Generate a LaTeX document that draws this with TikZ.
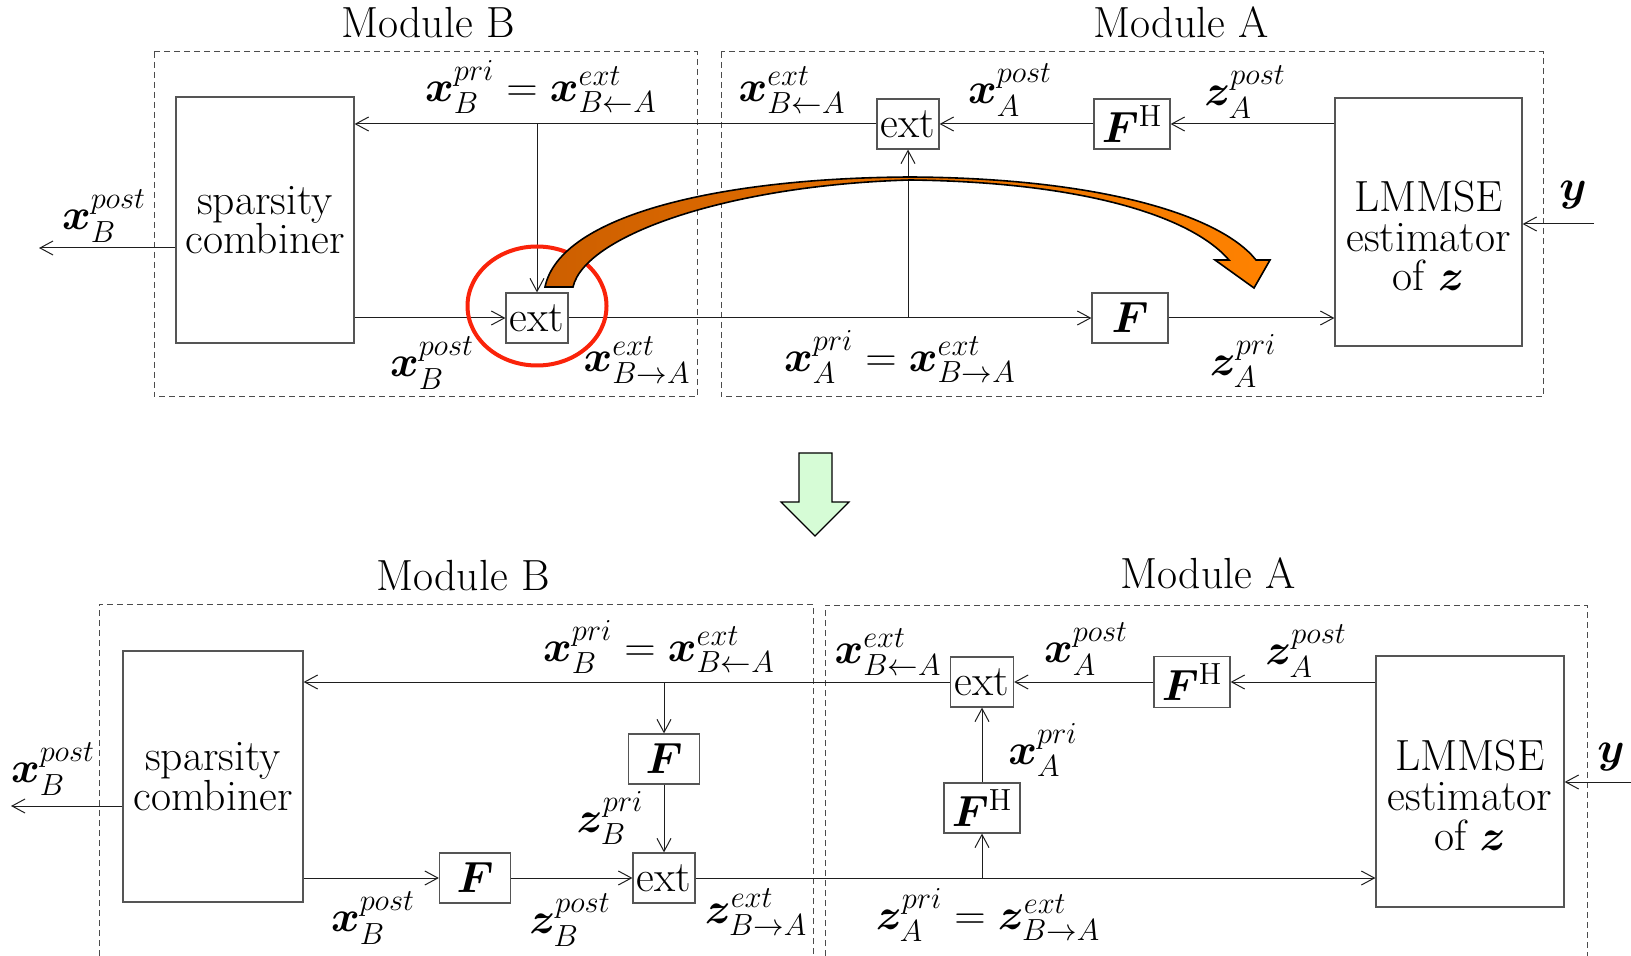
\RequirePackage{fix-cm}
\documentclass[tikz,border=0pt]{standalone}
\usepackage{amsmath}
\usepackage{bm}
\usetikzlibrary{arrows.meta}
\definecolor{ln}{RGB}{30,30,30}
\definecolor{bxc}{RGB}{85,85,85}
\definecolor{redc}{RGB}{250,35,10}
\definecolor{ortail}{RGB}{205,95,0}
\definecolor{orhead}{RGB}{255,130,0}
\definecolor{grn}{RGB}{214,252,214}
\newcommand{\mlfont}{\fontsize{21.8}{19.8}\selectfont}
\begin{document}
\begin{tikzpicture}[x=0.5pt,y=-0.5pt,
  every node/.style={font=\fontsize{21.8}{23}\selectfont},
  blk/.style={draw=bxc, line width=0.6pt, inner sep=0pt, fill=white},
  con/.style={draw=ln, line width=0.5pt, -{Straight Barb[length=6.5pt,width=7pt]}},
  modbox/.style={draw=black!70, dash pattern=on 3pt off 2pt, line width=0.5pt},
  lbl/.style={inner sep=0pt},
  lmlabel/.style={label={[lbl,align=center,font=\mlfont,yshift=-7pt]center:LMMSE\\estimator\\of $\bm z$}}
]
\useasboundingbox (0,0) rectangle (1631,956);

% ---------------- module frames ----------------
\draw[modbox] (154,52) rectangle (697,397);
\draw[modbox] (721,52) rectangle (1543,397);
\draw[modbox] (99,956) -- (99,604) -- (813,604) -- (813,956);
\draw[modbox] (825,956) -- (825,605) -- (1587,605) -- (1587,956);

\node[lbl, anchor=base] (mB1) at (428,38) {Module B};
\node[lbl, anchor=base] (mA1) at (1181,38) {Module A};
\node[lbl, anchor=base] (mB2) at (463,590) {Module B};
\node[lbl, anchor=base] (mA2) at (1208,588) {Module A};

% ---------------- top diagram ----------------
\node[blk, minimum width=89pt, minimum height=123pt, align=center, font=\mlfont] (spT) at (265,220) {sparsity\\combiner};
\node[blk, minimum width=93.5pt, minimum height=124pt, lmlabel] (lmT) at (1428.5,222) {};
\node[blk, minimum width=31pt, minimum height=25pt] (exBT) at (537,318) {ext};
\node[blk, minimum width=38pt, minimum height=25pt] (FT) at (1130,318) {$\bm F$};
\node[blk, minimum width=31pt, minimum height=25pt] (exAT) at (908,124) {ext};
\node[blk, minimum width=38pt, minimum height=25pt] (FHT) at (1132,124) {$\bm F^{\mathrm H}$};

\coordinate (brT) at (exBT.north |- exAT);
\coordinate (brT2) at (exAT.south |- FT);
\coordinate (outT) at (39,248);
\coordinate (yT) at (1594,224);

\draw[con] (lmT.west |- FHT) -- (FHT.east);
\draw[con] (FHT.west) -- (exAT.east);
\draw[con] (exAT.west) -- (spT.east |- exAT);
\draw[con] (brT) -- (exBT.north);
\draw[con] (spT.east |- exBT) -- (exBT.west);
\draw[con] (exBT.east) -- (FT.west);
\draw[con] (FT.east) -- (lmT.west |- FT);
\draw[con] (brT2) -- (exAT.south);
\draw[con] (spT.west |- outT) -- (outT);
\draw[con] (yT) -- (lmT.east |- yT);

\node[lbl] (t1) at (104,216) {$\bm x_B^{post}$};
\node[lbl] (t2) at (541,87) {$\bm x_B^{pri} = \bm x^{ext}_{B\leftarrow A}$};
\node[lbl] (t3) at (792,90) {$\bm x^{ext}_{B\leftarrow A}$};
\node[lbl] (t4) at (1010,90) {$\bm x_A^{post}$};
\node[lbl] (t5) at (1245,92) {$\bm z_A^{post}$};
\node[lbl] (t6) at (432,363) {$\bm x_B^{post}$};
\node[lbl] (t7) at (637,360) {$\bm x^{ext}_{B\rightarrow A}$};
\node[lbl] (t8) at (900,357) {$\bm x_A^{pri} = \bm x^{ext}_{B\rightarrow A}$};
\node[lbl] (t9) at (1243,361) {$\bm z_A^{pri}$};
\node[lbl] (t10) at (1573,195) {$\bm y$};

% highlight and curved arrow
\draw[redc, line width=2pt] (537,306) ellipse [x radius=34.75pt, y radius=29.75pt];
\path[draw=black, line width=0.8pt, left color=ortail, right color=orhead]
 (545,287) .. controls (560,215) and (720,178) .. (910,177)
 .. controls (1100,178) and (1220,215) .. (1256,260)
 -- (1270,260) -- (1254,288) -- (1215,260) -- (1229,260)
 .. controls (1190,215) and (1080,182) .. (910,180)
 .. controls (730,185) and (585,235) .. (573,287) -- cycle;

% green transition arrow
\draw[line width=0.6pt, fill=grn] (799,453) -- (832,453) -- (832,502) -- (849,502) -- (815,536) -- (781,502) -- (799,502) -- cycle;

% ---------------- bottom diagram ----------------
\node[blk, minimum width=90pt, minimum height=125.5pt, align=center, font=\mlfont] (spB) at (213,776.5) {sparsity\\combiner};
\node[blk, minimum width=94pt, minimum height=125.5pt, lmlabel] (lmB) at (1470,781.5) {};
\node[blk, minimum width=35.5pt, minimum height=25pt] (F1B) at (475,878) {$\bm F$};
\node[blk, minimum width=31pt, minimum height=25pt] (exBB) at (664,878) {ext};
\node[blk, minimum width=35.5pt, minimum height=25pt] (F2B) at (664,759) {$\bm F$};
\node[blk, minimum width=31.5pt, minimum height=25pt] (exAB) at (982,682) {ext};
\node[blk, minimum width=38pt, minimum height=25.5pt] (FH1B) at (1192,682) {$\bm F^{\mathrm H}$};
\node[blk, minimum width=38pt, minimum height=25pt] (FH2B) at (982,808) {$\bm F^{\mathrm H}$};

\coordinate (brB) at (F2B.north |- exAB);
\coordinate (brB2) at (FH2B.south |- exBB);
\coordinate (outB) at (11,806);
\coordinate (yB) at (1631,782);

\draw[con] (lmB.west |- FH1B) -- (FH1B.east);
\draw[con] (FH1B.west) -- (exAB.east);
\draw[con] (exAB.west) -- (spB.east |- exAB);
\draw[con] (brB) -- (F2B.north);
\draw[con] (F2B.south) -- (exBB.north);
\draw[con] (spB.east |- F1B) -- (F1B.west);
\draw[con] (F1B.east) -- (exBB.west);
\draw[con] (exBB.east) -- (lmB.west |- exBB);
\draw[con] (brB2) -- (FH2B.south);
\draw[con] (FH2B.north) -- (exAB.south);
\draw[con] (spB.west |- outB) -- (outB);
\draw[con] (yB) -- (lmB.east |- yB);

\node[lbl] (b1) at (53,769) {$\bm x_B^{post}$};
\node[lbl] (b2) at (659,647) {$\bm x_B^{pri} = \bm x^{ext}_{B\leftarrow A}$};
\node[lbl] (b3) at (610,818) {$\bm z_B^{pri}$};
\node[lbl] (b4) at (373,918) {$\bm x_B^{post}$};
\node[lbl] (b5) at (570,920) {$\bm z_B^{post}$};
\node[lbl] (b6) at (756,912) {$\bm z^{ext}_{B\rightarrow A}$};
\node[lbl] (b7) at (888,652) {$\bm x^{ext}_{B\leftarrow A}$};
\node[lbl] (b8) at (1086,649) {$\bm x_A^{post}$};
\node[lbl] (b9) at (1306,651) {$\bm z_A^{post}$};
\node[lbl] (b10) at (1043,750) {$\bm x_A^{pri}$};
\node[lbl] (b11) at (988,915) {$\bm z_A^{pri} = \bm z^{ext}_{B\rightarrow A}$};
\node[lbl] (b12) at (1611,757) {$\bm y$};
\end{tikzpicture}
\end{document}
